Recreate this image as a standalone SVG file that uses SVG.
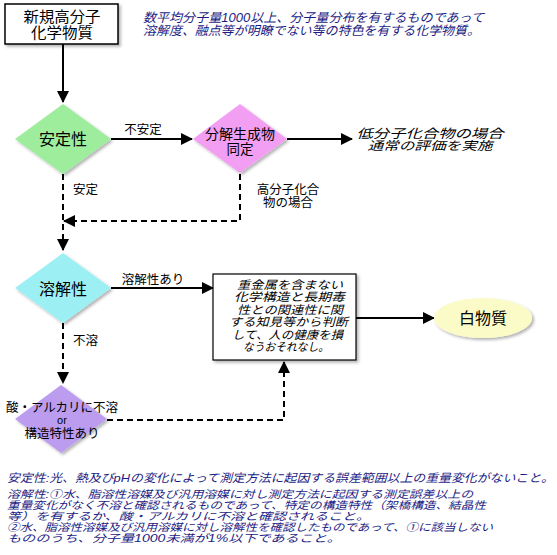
<svg xmlns="http://www.w3.org/2000/svg" width="557" height="555" viewBox="0 0 557 555">
<defs>
<style>
text{font-family:"Noto Sans CJK JP","Liberation Sans",sans-serif;fill:#000}
.tight{font-family:"Liberation Sans","Noto Sans CJK JP",sans-serif}
.lbl{font-size:12.5px}
.it{font-style:italic}
.navy{fill:#1c1c84}
.solid{stroke:#000;stroke-width:2;fill:none}
.dash{stroke:#000;stroke-width:2;fill:none;stroke-dasharray:6 4}
</style>
<marker id="ah" markerWidth="12" markerHeight="12" viewBox="0 0 12 12" refX="11" refY="6" orient="auto" markerUnits="userSpaceOnUse">
<path d="M0,0 L12,6 L0,12 Z" fill="#000"/>
</marker>
<filter id="sh" x="-20%" y="-20%" width="150%" height="150%">
<feDropShadow dx="2" dy="2" stdDeviation="1.5" flood-color="#000" flood-opacity="0.3"/>
</filter>
</defs>
<rect width="557" height="555" fill="#fff"/>

<g id="connectors">
<path class="solid" d="M63,44 V102" marker-end="url(#ah)"/>
<path class="solid" d="M111,139 H192" marker-end="url(#ah)"/>
<path class="solid" d="M287,139 H352" marker-end="url(#ah)"/>
<path class="dash" d="M63,174 V250" marker-end="url(#ah)"/>
<path class="dash" d="M240,174 V221 H64" marker-end="url(#ah)"/>
<path class="solid" d="M111,288 H213" marker-end="url(#ah)"/>
<path class="solid" d="M356,318 H434" marker-end="url(#ah)"/>
<path class="dash" d="M63,323 V383" marker-end="url(#ah)"/>
<path class="dash" d="M107,420 H284 V362" marker-end="url(#ah)"/>
<text class="lbl" x="143" y="133.5" text-anchor="middle">不安定</text>
<text class="lbl" x="73" y="193.5">安定</text>
<text class="lbl tight" x="288" y="193.5" text-anchor="middle">高分子化合</text>
<text class="lbl tight" x="288" y="206.5" text-anchor="middle">物の場合</text>
<text class="lbl" x="153" y="283.5" text-anchor="middle">溶解性あり</text>
<text class="lbl" x="73" y="344.5">不溶</text>
</g>

<g id="new-polymer">
<rect x="5" y="4" width="113" height="40" fill="#fff" stroke="#000" stroke-width="1.5" filter="url(#sh)"/>
<text class="tight" x="62" y="21.5" font-size="14.5" text-anchor="middle" textLength="77" lengthAdjust="spacingAndGlyphs">新規高分子</text>
<text class="tight" x="62" y="38" font-size="14.5" text-anchor="middle" textLength="62" lengthAdjust="spacingAndGlyphs">化学物質</text>
</g>

<g id="definition">
<text class="it navy tight" x="143" y="21.5" font-size="12.5" textLength="341" lengthAdjust="spacingAndGlyphs">数平均分子量1000以上、分子量分布を有するものであって</text>
<text class="it navy tight" x="143" y="34.5" font-size="12.5" textLength="337" lengthAdjust="spacingAndGlyphs">溶解度、融点等が明瞭でない等の特色を有する化学物質。</text>
</g>

<g id="stability">
<polygon points="63,104 111,139 63,174 15,139" fill="#9ded9d" filter="url(#sh)"/>
<text x="63" y="145" font-size="16" text-anchor="middle">安定性</text>
</g>

<g id="decomposition">
<polygon points="240,104 287,139 240,173 193,139" fill="#f29ef2" filter="url(#sh)"/>
<text class="tight" x="240" y="139" font-size="13.5" text-anchor="middle" textLength="70" lengthAdjust="spacingAndGlyphs">分解生成物</text>
<text class="tight" x="240" y="154" font-size="13.5" text-anchor="middle">同定</text>
</g>

<g id="low-mw">
<text class="it tight" x="430" y="137.5" font-size="12.5" text-anchor="middle" textLength="147" lengthAdjust="spacingAndGlyphs">低分子化合物の場合</text>
<text class="it tight" x="430" y="150" font-size="12" text-anchor="middle" textLength="125" lengthAdjust="spacingAndGlyphs">通常の評価を実施</text>
</g>

<g id="solubility">
<polygon points="63,253 111,288 63,323 15,288" fill="#9cf0f4" filter="url(#sh)"/>
<text x="63" y="294.5" font-size="16" text-anchor="middle">溶解性</text>
</g>

<g id="insoluble">
<polygon points="61,385 107,419 61,453 15,419" fill="#bb9cee" filter="url(#sh)"/>
<text class="tight" x="62" y="411.5" font-size="12.5" text-anchor="middle">酸・アルカリに不溶</text>
<text class="tight" x="62" y="424" font-size="11" text-anchor="middle">or</text>
<text class="tight" x="62" y="437.5" font-size="12.5" text-anchor="middle">構造特性あり</text>
</g>

<g id="judgement">
<rect x="213" y="274" width="143" height="86" fill="#fff" stroke="#000" stroke-width="1.2" filter="url(#sh)"/>
<text class="it tight" x="290" y="288.5" font-size="11.5" text-anchor="middle" textLength="106" lengthAdjust="spacingAndGlyphs">重金属を含まない</text>
<text class="it tight" x="289.5" y="301" font-size="11.5" text-anchor="middle" textLength="111" lengthAdjust="spacingAndGlyphs">化学構造と長期毒</text>
<text class="it tight" x="290" y="313.5" font-size="11.5" text-anchor="middle" textLength="106" lengthAdjust="spacingAndGlyphs">性との関連性に関</text>
<text class="it tight" x="288.5" y="326" font-size="11.5" text-anchor="middle" textLength="119" lengthAdjust="spacingAndGlyphs">する知見等から判断</text>
<text class="it tight" x="287.5" y="338.5" font-size="11.5" text-anchor="middle" textLength="111" lengthAdjust="spacingAndGlyphs">して、人の健康を損</text>
<text class="it tight" x="286" y="351" font-size="11.5" text-anchor="middle" textLength="86" lengthAdjust="spacingAndGlyphs">なうおそれなし。</text>
</g>

<g id="white-substance">
<ellipse cx="483" cy="318" rx="49" ry="20" fill="#fbfbc8" filter="url(#sh)"/>
<text x="483" y="324" font-size="16" text-anchor="middle">白物質</text>
</g>

<g id="notes">
<text class="it navy tight" x="7" y="481.5" font-size="11.5" textLength="547" lengthAdjust="spacingAndGlyphs">安定性:光、熱及びpHの変化によって測定方法に起因する誤差範囲以上の重量変化がないこと。</text>
<text class="it navy tight" x="7" y="497.5" font-size="10.5" textLength="466" lengthAdjust="spacingAndGlyphs">溶解性:①水、脂溶性溶媒及び汎用溶媒に対し測定方法に起因する測定誤差以上の</text>
<text class="it navy tight" x="7" y="508.5" font-size="10.5" textLength="479" lengthAdjust="spacingAndGlyphs">重量変化がなく不溶と確認されるものであって、特定の構造特性（架橋構造、結晶性</text>
<text class="it navy tight" x="7" y="519.5" font-size="10.5" textLength="363" lengthAdjust="spacingAndGlyphs">等）を有するか、酸・アルカリに不溶と確認されること。</text>
<text class="it navy tight" x="7" y="530.5" font-size="10.5" textLength="486" lengthAdjust="spacingAndGlyphs">②水、脂溶性溶媒及び汎用溶媒に対し溶解性を確認したものであって、①に該当しない</text>
<text class="it navy tight" x="7" y="541.5" font-size="10.5" textLength="334" lengthAdjust="spacingAndGlyphs">もののうち、分子量1000未満が1%以下であること。</text>
</g>
</svg>
